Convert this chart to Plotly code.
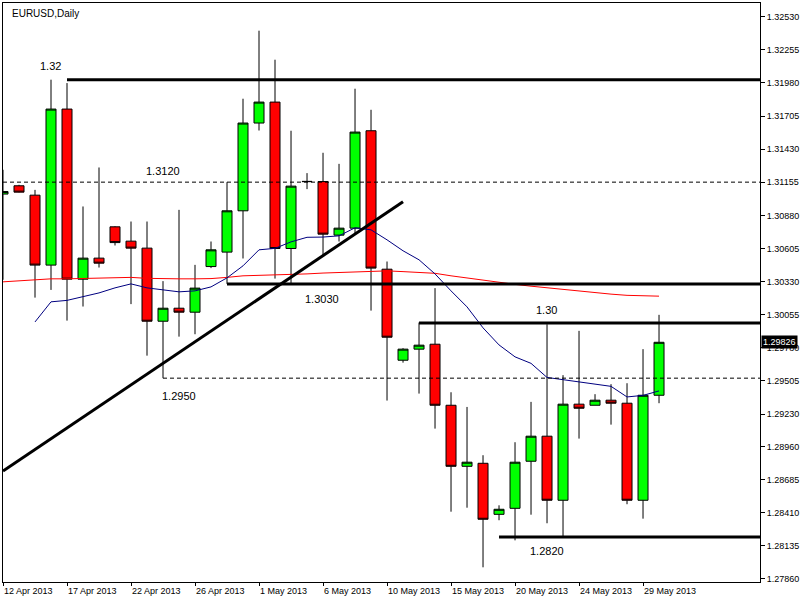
import plotly.graph_objects as go

# ---------------- data ----------------
dates = ["12 Apr", "14 Apr", "15 Apr", "16 Apr", "17 Apr", "18 Apr", "19 Apr",
         "21 Apr", "22 Apr", "23 Apr", "24 Apr", "25 Apr", "26 Apr",
         "28 Apr", "29 Apr", "30 Apr", "1 May", "2 May", "3 May",
         "5 May", "6 May", "7 May", "8 May", "9 May", "10 May",
         "12 May", "13 May", "14 May", "15 May", "16 May", "17 May",
         "19 May", "20 May", "21 May", "22 May", "23 May", "24 May",
         "26 May", "27 May", "28 May", "29 May", "30 May"]

opens = [1.31057, 1.31126, 1.31048, 1.30467, 1.31763, 1.30350, 1.30525,
         1.30785, 1.30666, 1.30608, 1.30001, 1.30109, 1.30076,
         1.30455, 1.30575, 1.30918, 1.31647, 1.31821, 1.30605,
         1.31160, 1.31161, 1.30716, 1.30774, 1.31583, 1.30433,
         1.29677, 1.29769, 1.29810, 1.29303, 1.28796, 1.28821,
         1.28397, 1.28447, 1.28838, 1.29046, 1.28514, 1.29312,
         1.29303, 1.29345, 1.29320, 1.28514, 1.29386]
highs = [1.31259, 1.31134, 1.31092, 1.32007, 1.31979, 1.30954, 1.31278,
         1.30790, 1.30829, 1.30829, 1.30334, 1.30926, 1.30469,
         1.30663, 1.31156, 1.31849, 1.32414, 1.32173, 1.31583,
         1.31231, 1.31400, 1.31308, 1.31932, 1.31757, 1.30497,
         1.29777, 1.29990, 1.30276, 1.29411, 1.29289, 1.28888,
         1.28472, 1.28996, 1.29331, 1.29976, 1.29553, 1.29921,
         1.29395, 1.29478, 1.29486, 1.29769, 1.30054]
lows = [1.30345, 1.31071, 1.30197, 1.30261, 1.30006, 1.30123, 1.30447,
        1.30630, 1.30143, 1.29715, 1.29528, 1.29873, 1.29893,
        1.30442, 1.30311, 1.30522, 1.31585, 1.30355, 1.30317,
        1.31098, 1.30552, 1.30663, 1.30733, 1.30089, 1.29342,
        1.29657, 1.29400, 1.29109, 1.28419, 1.28452, 1.27957,
        1.28348, 1.28181, 1.28394, 1.28323, 1.28206, 1.29026,
        1.29303, 1.29142, 1.28481, 1.28361, 1.29320]
closes = [1.31078, 1.31073, 1.30467, 1.31763, 1.30350, 1.30525, 1.30483,
          1.30654, 1.30608, 1.30001, 1.30109, 1.30076, 1.30276,
          1.30594, 1.30918, 1.31647, 1.31821, 1.30605, 1.31123,
          1.31162, 1.30724, 1.30774, 1.31572, 1.30442, 1.29868,
          1.29769, 1.29802, 1.29303, 1.28796, 1.28830, 1.28356,
          1.28439, 1.28830, 1.29046, 1.28514, 1.29312, 1.29278,
          1.29345, 1.29320, 1.28514, 1.29386, 1.29826]

ma_fast = [None, None, 1.29995, 1.30162, 1.30174, 1.30203, 1.30236,
           1.30278, 1.30311, 1.30278, 1.30261, 1.30245, 1.30253,
           1.30286, 1.30361, 1.30461, 1.30594, 1.30606, 1.30660,
           1.30698, 1.30700, 1.30710, 1.30777, 1.30760, 1.30677,
           1.30586, 1.30511, 1.30394, 1.30253, 1.30120, 1.29946,
           1.29804, 1.29705, 1.29651, 1.29534, 1.29514, 1.29497,
           1.29480, 1.29460, 1.29372, 1.29385, 1.29422]
ma_slow = [1.30328, 1.30336, 1.30339, 1.30353, 1.30353, 1.30355, 1.30357,
           1.30361, 1.30365, 1.30357, 1.30353, 1.30353, 1.30353,
           1.30355, 1.30365, 1.30378, 1.30382, 1.30384, 1.30388,
           1.30394, 1.30401, 1.30407, 1.30413, 1.30419, 1.30419,
           1.30413, 1.30404, 1.30399, 1.30378, 1.30359, 1.30340,
           1.30324, 1.30307, 1.30292, 1.30278, 1.30266, 1.30251,
           1.30236, 1.30226, 1.30216, 1.30212, 1.30209]

x_tick_dates = ["12 Apr", "17 Apr", "22 Apr", "26 Apr", "1 May", "6 May",
                "10 May", "15 May", "20 May", "24 May", "29 May"]
year = "2013"

y_ticks = [1.32530, 1.32255, 1.31980, 1.31705, 1.31430, 1.31155, 1.30880,
           1.30605, 1.30330, 1.30055, 1.29780, 1.29505, 1.29230, 1.28960,
           1.28685, 1.28410, 1.28135, 1.27860]

# support / resistance levels drawn on the chart
solid_levels = [1.32006, 1.30310, 1.29987, 1.28209]
solid_level_from = ["17 Apr", "29 Apr", "13 May", "19 May"]
dashed_levels = [1.31156, 1.29528]
dashed_level_from = ["12 Apr", "24 Apr"]

level_labels = ["1.32", "1.3120", "1.3030", "1.2950", "1.30", "1.2820"]
level_label_at = [2.97, 10.0, 19.96, 11.0, 33.98, 33.98]   # bar position
level_label_price = [1.32117, 1.31250, 1.30187, 1.29383, 1.30095, 1.28092]

trend_dates = ["12 Apr", "12 May"]
trend_prices = [1.28757, 1.30993]

last_price = 1.29826
symbol = "EURUSD,Daily"

# ---------------- figure ----------------
pos = {d: i for i, d in enumerate(dates)}
xs = list(range(len(dates)))
x_max = 47.31
y_min, y_max = 1.27835, 1.32644
FONT = "Liberation Sans, Arial, sans-serif"

fig = go.Figure()
fig.add_trace(go.Candlestick(
    x=xs, open=opens, high=highs, low=lows, close=closes,
    increasing=dict(line=dict(color="black", width=1), fillcolor="#00ff00"),
    decreasing=dict(line=dict(color="black", width=1), fillcolor="#ff0000"),
    whiskerwidth=0, showlegend=False, hoverinfo="skip"))
fig.add_trace(go.Scatter(x=xs, y=ma_slow, mode="lines",
                         line=dict(color="#ff0000", width=1),
                         showlegend=False, hoverinfo="skip"))
fig.add_trace(go.Scatter(x=xs, y=ma_fast, mode="lines",
                         line=dict(color="#000080", width=1),
                         showlegend=False, hoverinfo="skip"))

for p, d in zip(solid_levels, solid_level_from):
    fig.add_shape(type="line", xref="x", yref="y", x0=pos[d], x1=x_max,
                  y0=p, y1=p, line=dict(color="black", width=3))
for p, d in zip(dashed_levels, dashed_level_from):
    fig.add_shape(type="line", xref="x", yref="y", x0=pos[d], x1=x_max,
                  y0=p, y1=p, line=dict(color="black", width=1, dash="4px,3px"))
fig.add_shape(type="line", xref="x", yref="y",
              x0=pos[trend_dates[0]], x1=pos[trend_dates[1]],
              y0=trend_prices[0], y1=trend_prices[1],
              line=dict(color="black", width=3))

for t, xi, yp in zip(level_labels, level_label_at, level_label_price):
    fig.add_annotation(x=xi, y=yp, xref="x", yref="y", text=t, showarrow=False,
                       font=dict(family=FONT, size=11, color="black"))

fig.add_annotation(x=1, y=last_price, xref="paper", yref="y",
                   text=f"{last_price:.5f}", showarrow=False, xanchor="left",
                   xshift=1, bgcolor="black", borderpad=1,
                   font=dict(family=FONT, size=9, color="white"))

fig.add_annotation(x=7 / 803, y=1 - 11 / 600, xref="paper", yref="paper",
                   text=symbol, showarrow=False, xanchor="left", yanchor="middle",
                   font=dict(family=FONT, size=10, color="black"))

fig.update_layout(
    width=803, height=600,
    margin=dict(l=3, r=43, t=3, b=18),
    paper_bgcolor="white", plot_bgcolor="white",
    showlegend=False, hovermode=False,
    boxgap=0.375, boxgroupgap=0,
    font=dict(family=FONT, size=9, color="black"),
)
fig.update_xaxes(
    range=[0, x_max], tickvals=[pos[d] for d in x_tick_dates],
    ticktext=[f"{d} {year}" for d in x_tick_dates],
    ticks="outside", ticklen=3, tickcolor="black",
    ticklabelposition="outside right",
    showline=True, linecolor="black", linewidth=1, mirror=True,
    showgrid=False, zeroline=False, rangeslider=dict(visible=False),
    tickfont=dict(family=FONT, size=9, color="black"), fixedrange=True)
fig.update_yaxes(
    range=[y_min, y_max], side="right", tickvals=y_ticks,
    ticktext=[f"{v:.5f}" for v in y_ticks],
    ticks="outside", ticklen=4, tickcolor="black",
    showline=True, linecolor="black", linewidth=1, mirror=True,
    showgrid=False, zeroline=False,
    tickfont=dict(family=FONT, size=9, color="black"), fixedrange=True)

fig.write_html(
    "out.html", config={"displayModeBar": False},
    post_script="document.body.style.margin='0';document.body.style.overflow='hidden';")
